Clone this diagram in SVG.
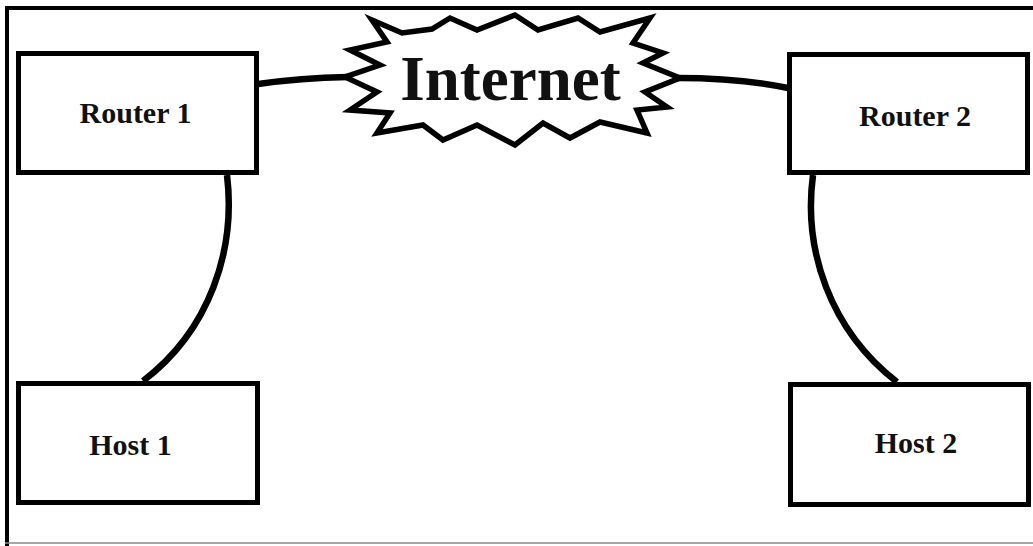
<svg xmlns="http://www.w3.org/2000/svg" width="1033" height="546" viewBox="0 0 1033 546">
  <style>
    .box { fill: #ffffff; stroke: #000000; stroke-width: 5; }
    .label { font-family: "Liberation Serif", "Times New Roman", serif; font-weight: bold; font-size: 30px; fill: #111111; text-anchor: middle; }
    .cloud-label { font-family: "Liberation Serif", "Times New Roman", serif; font-weight: bold; font-size: 63px; fill: #111111; text-anchor: middle; }
    .link { fill: none; stroke: #000000; stroke-width: 6.5; stroke-linecap: butt; }
    .burst { fill: #ffffff; stroke: #000000; stroke-width: 5.5; stroke-linejoin: miter; stroke-miterlimit: 6; }
  </style>
  <rect x="0" y="0" width="1033" height="546" fill="#ffffff"/>

  <!-- frame -->
  <g id="frame">
    <line x1="5" y1="8" x2="1033" y2="8" stroke="#000" stroke-width="4"/>
    <line x1="7" y1="6" x2="7" y2="546" stroke="#000" stroke-width="4"/>
    <line x1="5" y1="543" x2="1033" y2="543" stroke="#8a8a8a" stroke-width="1.5"/>
  </g>

  <!-- links -->
  <g id="connectors">
    <path class="link" d="M258,84 Q300,78 348,77"/>
    <path class="link" d="M677,78 Q740,78 788,88"/>
    <path class="link" d="M227,175 C236,250 210,330 143,381"/>
    <path class="link" d="M813,175 C803,250 830,330 897,382"/>
  </g>

  <g id="internet">
    <polygon class="burst" points="372,20 402,33 432,29 450,18 477,30 515,15 538,30 578,18 600,32 650,18 633,43 663,53 643,63 680,78 645,92 667,107 637,110 647,133 600,122 570,138 543,123 515,145 477,125 443,140 423,125 377,133 390,113 350,110 377,92 345,77 380,65 350,50 387,42"/>
    <text class="cloud-label" x="510.5" y="100">Internet</text>
  </g>

  <g id="router1">
    <rect class="box" x="18.5" y="53.5" width="238" height="119"/>
    <text class="label" x="135.5" y="123">Router 1</text>
  </g>

  <g id="router2">
    <rect class="box" x="789.5" y="54.5" width="238" height="118"/>
    <text class="label" x="915" y="126">Router 2</text>
  </g>

  <g id="host1">
    <rect class="box" x="18.5" y="383.5" width="239" height="119"/>
    <text class="label" x="130.5" y="455">Host 1</text>
  </g>

  <g id="host2">
    <rect class="box" x="790.5" y="384.5" width="238" height="120"/>
    <text class="label" x="916" y="453">Host 2</text>
  </g>
</svg>
